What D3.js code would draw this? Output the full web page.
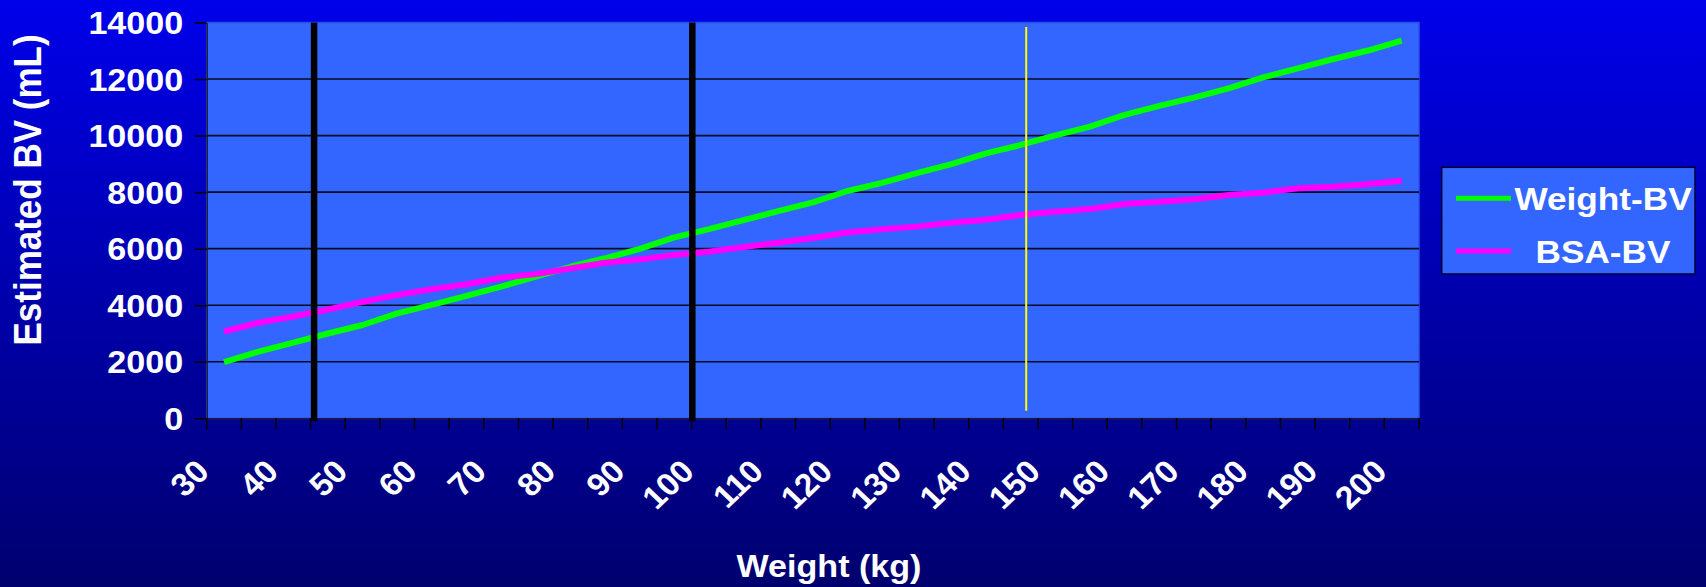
<!DOCTYPE html>
<html><head><meta charset="utf-8">
<script src="https://cdn.jsdelivr.net/npm/d3@7"></script>
<style>html,body{margin:0;padding:0;background:#000080;overflow:hidden}</style>
</head><body><svg id="c" width="1706" height="587"></svg>
<script>
// ---- data ----
const weights = [30,35,40,45,50,55,60,65,70,75,80,85,90,95,100,105,110,115,120,125,130,135,140,145,150,155,160,165,170,175,180,185,190,195,200];
const weightBV = [1990,2360,2680,3000,3300,3710,4010,4330,4660,5010,5360,5660,5990,6400,6690,7010,7330,7640,8040,8330,8670,8990,9370,9670,10010,10320,10730,11050,11340,11670,12060,12380,12700,13000,13360];
const bsaBV = [3070,3380,3600,3850,4120,4360,4570,4740,4970,5100,5300,5500,5620,5780,5890,6060,6210,6380,6570,6690,6780,6920,7020,7190,7310,7400,7580,7660,7750,7900,7980,8140,8190,8280,8400];
const yTicks = [0,2000,4000,6000,8000,10000,12000,14000];
const seriesNames = ["Weight-BV","BSA-BV"];
const seriesColors = ["#00FF00","#FF00FF"];
const blackMarkers = [43, 97.6];   // weight (kg) of thick black guide lines
const yellowMarkers = [145.8];     // weight (kg) of thin yellow guide line
const xTitle = "Weight (kg)";
const yTitle = "Estimated BV (mL)";

// ---- layout ----
const W = 1706, H = 587;
const L = 206.7, R = 1419, T = 22.5, B = 418.3;
const FONT = "'Liberation Sans', Arial, sans-serif";
const SX = 1.1;

const svg = d3.select("#c");
const defs = svg.append("defs");
const grad = defs.append("linearGradient").attr("id","bg").attr("x1",0).attr("y1",0).attr("x2",0).attr("y2",1);
grad.append("stop").attr("offset","0%").attr("stop-color","#0000EA");
grad.append("stop").attr("offset","100%").attr("stop-color","#00006E");
svg.append("rect").attr("width",W).attr("height",H).attr("fill","url(#bg)");

const x = d3.scaleBand().domain(weights).range([L,R]).padding(0);
const bw = x.bandwidth();
const xc = d => x(d) + bw/2;
const xLin = d3.scaleLinear().domain([weights[0]-2.5, weights[weights.length-1]+2.5]).range([L,R]);
const y = d3.scaleLinear().domain([0,14000]).range([B,T]);

// plot area
svg.append("rect").attr("x",L).attr("y",T).attr("width",R-L).attr("height",B-T)
  .attr("fill","#3366FF").attr("stroke","#2b52e6").attr("stroke-width",1.5);

// gridlines
svg.append("g").selectAll("line").data(yTicks.filter(v=>v>0 && v<14000)).join("line")
  .attr("x1",L).attr("x2",R).attr("y1",d=>y(d)).attr("y2",d=>y(d))
  .attr("stroke","#0a0a20").attr("stroke-width",1.6);

// y axis
const ya = svg.append("g").attr("transform",`translate(${L},0)`)
  .call(d3.axisLeft(y).tickValues(yTicks).tickSize(12).tickSizeOuter(0).tickFormat(d3.format("d")));
ya.select(".domain").attr("stroke","#1a1a3a").attr("stroke-width",1.5);
ya.selectAll(".tick line").attr("stroke","#000").attr("stroke-width",1.5);
ya.selectAll(".tick text").attr("x",0).attr("dy","0.36em")
  .attr("transform",`translate(-23.5,0) scale(${SX},1)`)
  .attr("fill","#fff").attr("font-family",FONT).attr("font-weight","bold").attr("font-size",31)
  .attr("text-anchor","end");

// x axis (labels)
const xa = svg.append("g").attr("transform",`translate(0,${B})`)
  .call(d3.axisBottom(x).tickSize(0).tickFormat(d => d % 10 === 0 ? d : ""));
xa.select(".domain").attr("stroke","#1a1a3a").attr("stroke-width",1.5);
xa.selectAll(".tick text").attr("y",0).attr("dy",0)
  .attr("transform",`translate(-13,55) scale(1.05,1) rotate(-45)`)
  .attr("fill","#fff").attr("font-family",FONT).attr("font-weight","bold").attr("font-size",32)
  .attr("text-anchor","end");
// boundary ticks between categories
const bounds = weights.map(d => x(d)).concat([R]);
svg.append("g").selectAll("line").data(bounds).join("line")
  .attr("x1",d=>d).attr("x2",d=>d).attr("y1",B).attr("y2",B+11)
  .attr("stroke","#000").attr("stroke-width",1.5);

// series lines
const line = d3.line().x((d,i)=>xc(weights[i])).y(d=>y(d));
[weightBV, bsaBV].forEach((s,k)=>{
  svg.append("path").datum(s).attr("d",line).attr("fill","none")
    .attr("stroke",seriesColors[k]).attr("stroke-width",6).attr("stroke-linejoin","round");
});

// guide lines
svg.append("g").selectAll("line").data(blackMarkers).join("line")
  .attr("x1",d=>xLin(d)).attr("x2",d=>xLin(d)).attr("y1",T).attr("y2",B+3)
  .attr("stroke","#000").attr("stroke-width",6.5);
svg.append("g").selectAll("line").data(yellowMarkers).join("line")
  .attr("x1",d=>xLin(d)).attr("x2",d=>xLin(d)).attr("y1",T+4.5).attr("y2",B-7.5)
  .attr("stroke","#FFFF00").attr("stroke-width",2);

// legend
const lg = svg.append("g");
lg.append("rect").attr("x",1441.7).attr("y",167.3).attr("width",253.3).attr("height",106.7)
  .attr("fill","#3366FF").attr("stroke","#000033").attr("stroke-width",1.5);
const legY = [198.3, 251];
seriesNames.forEach((n,k)=>{
  lg.append("line").attr("x1",1456).attr("x2",1511).attr("y1",legY[k]).attr("y2",legY[k])
    .attr("stroke",seriesColors[k]).attr("stroke-width",5);
  lg.append("text").text(n)
    .attr("transform",`translate(1603,${legY[k]+11.5}) scale(${SX},1)`)
    .attr("text-anchor","middle").attr("fill","#fff").attr("font-family",FONT)
    .attr("font-weight","bold").attr("font-size",32);
});

// axis titles
svg.append("text").text(xTitle)
  .attr("transform",`translate(829,577) scale(${SX},1)`)
  .attr("text-anchor","middle").attr("fill","#fff").attr("font-family",FONT)
  .attr("font-weight","bold").attr("font-size",31);
svg.append("text").text(yTitle)
  .attr("transform",`translate(41,190) scale(${SX},1) rotate(-90)`)
  .attr("text-anchor","middle").attr("fill","#fff").attr("font-family",FONT)
  .attr("font-weight","bold").attr("font-size",35);
</script></body></html>
